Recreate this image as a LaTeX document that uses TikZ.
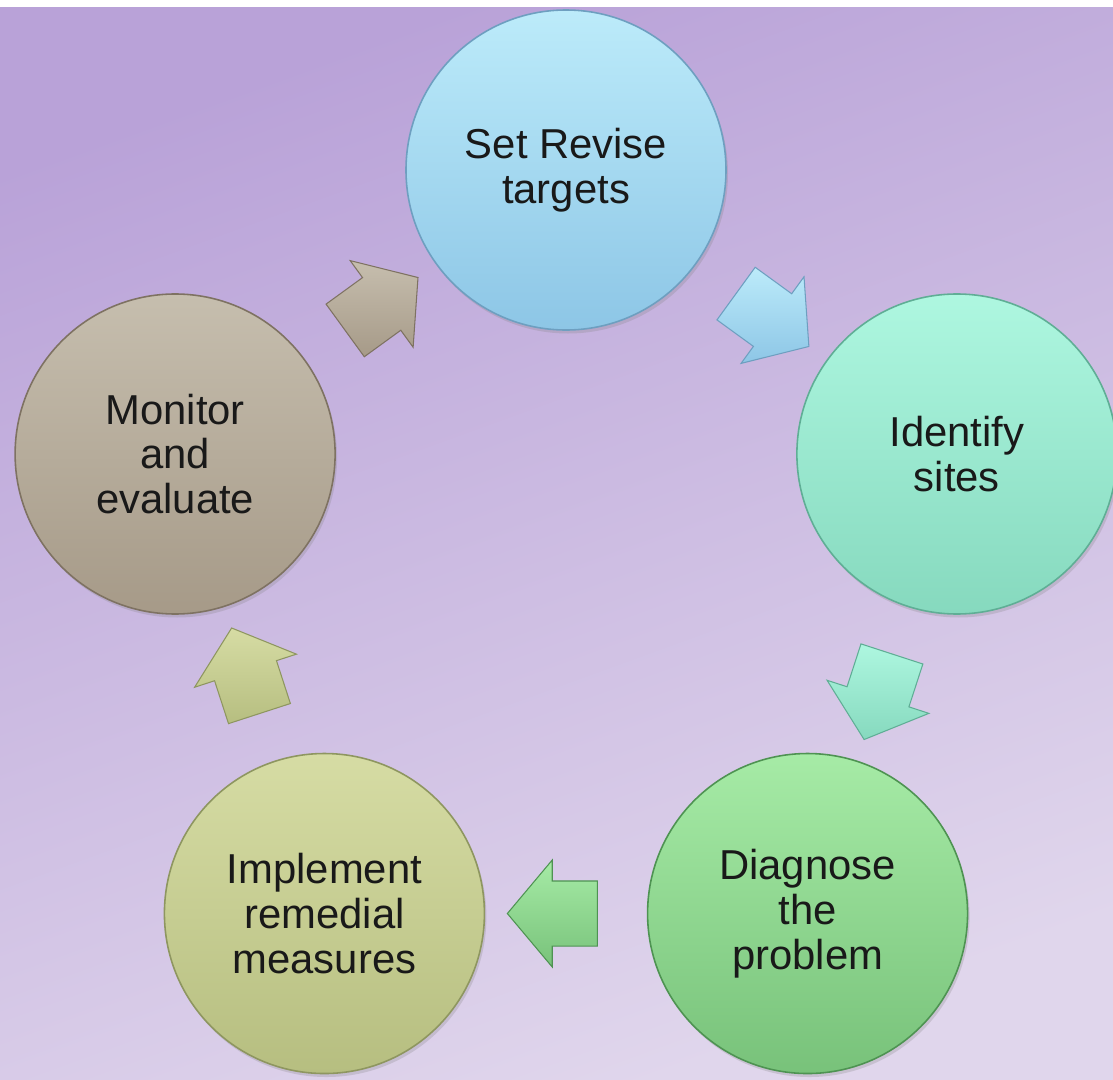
\documentclass[tikz,border=0pt]{standalone}
\usepackage{fontspec}
\setmainfont{Liberation Sans}
\usepackage{tikz}
\usetikzlibrary{positioning, shapes, shapes.arrows, shadows}

\definecolor{sfondoA}{HTML}{B9A2D8}
\definecolor{sfondoB}{HTML}{E0D6EC}
\definecolor{setA}{HTML}{BCEBFA}
\definecolor{setB}{HTML}{8DC6E6}
\definecolor{setC}{HTML}{6E9FC0}
\definecolor{idA}{HTML}{AEF7E0}
\definecolor{idB}{HTML}{86D9BE}
\definecolor{idC}{HTML}{5FAE95}
\definecolor{diagA}{HTML}{A6EBA6}
\definecolor{diagB}{HTML}{78C27A}
\definecolor{diagC}{HTML}{4E9352}
\definecolor{implA}{HTML}{D6DCA4}
\definecolor{implB}{HTML}{B6BE80}
\definecolor{implC}{HTML}{8E9660}
\definecolor{monA}{HTML}{C6BEAE}
\definecolor{monB}{HTML}{A69A88}
\definecolor{monC}{HTML}{7E7262}

\begin{document}
\begin{tikzpicture}[
        fase/.style={circle, draw, line width=0.9pt, minimum size=6.4cm, align=center, text=black!90,
            font=\fontsize{23.8}{25.5}\selectfont, drop shadow={opacity=0.25, shadow xshift=0.04cm, shadow yshift=-0.07cm}},
        freccia/.style={single arrow, draw, line width=0.6pt, single arrow head extend=0.42cm, single arrow tip angle=100,
            minimum height=1.8cm, inner xsep=0.1cm, inner ysep=0.64cm, sloped, allow upside down}
    ]
    % Sfondo
    \fill[white] (-11.32,-9.96) rectangle (10.94,11.62);
    \shade[top color=sfondoA, bottom color=sfondoB, shading angle=20] (-11.32,-9.96) rectangle (10.94,11.46);
    \useasboundingbox (-11.32,-9.96) rectangle (10.94,11.62);

    % Fasi del ciclo
    \node[fase, top color=setA, bottom color=setB, draw=setC] (set) at (90:8.22) {Set Revise\\targets};
    \node[fase, top color=idA, bottom color=idB, draw=idC] (ident) at (18:8.22) {Identify\\sites};
    \node[fase, top color=diagA, bottom color=diagB, draw=diagC] (diag) at (-54:8.22) {Diagnose\\the\\problem};
    \node[fase, top color=implA, bottom color=implB, draw=implC] (impl) at (-126:8.22) {Implement\\remedial\\measures};
    \node[fase, top color=monA, bottom color=monB, draw=monC] (mon) at (162:8.22) {Monitor\\and\\evaluate};

    % Frecce
    \path (set) -- node[freccia, top color=setA, bottom color=setB, draw=setC] (f1) {} (ident);
    \path (ident) -- node[freccia, top color=idA, bottom color=idB, draw=idC] (f2) {} (diag);
    \path (diag) -- node[freccia, top color=diagA, bottom color=diagB, draw=diagC] (f3) {} (impl);
    \path (impl) -- node[freccia, top color=implA, bottom color=implB, draw=implC] (f4) {} (mon);
    \path (mon) -- node[freccia, top color=monA, bottom color=monB, draw=monC] (f5) {} (set);
\end{tikzpicture}
\end{document}
